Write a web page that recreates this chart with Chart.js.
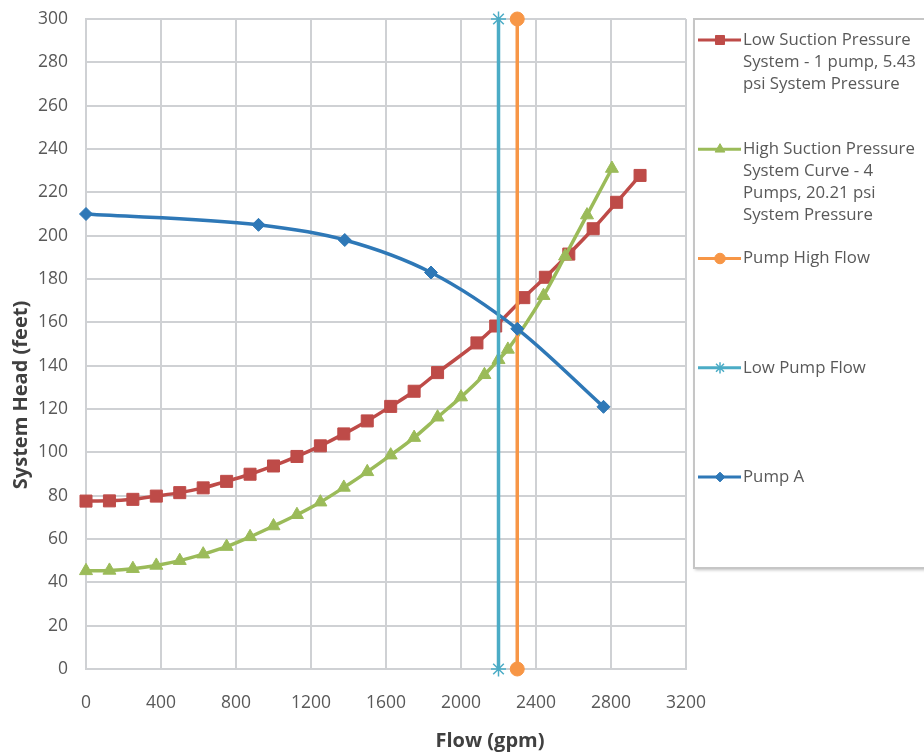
<!DOCTYPE html>
<html>
<head>
<meta charset="utf-8">
<script src="https://cdn.jsdelivr.net/npm/chart.js@4.4.0/dist/chart.umd.min.js"></script>
<style>
html,body{margin:0;padding:0;background:#ffffff;overflow:hidden;}
#wrap{position:relative;width:924px;height:753px;}
</style>
</head>
<body>
<div id="wrap"><canvas id="c" width="924" height="753"></canvas></div>
<script>
// ---------------- data ----------------
const xTickMin = 0, xTickMax = 3200, xTickStep = 400;
const yTickMin = 0, yTickMax = 300, yTickStep = 20;
const xAxisTitle = "Flow (gpm)";
const yAxisTitle = "System Head (feet)";

const lowSuctionFlow = [0,125,250,375,500,625,750,875,1000,1125,1250,1375,1500,1625,1750,1875,2085,2185,2335,2450,2575,2705,2830,2955];
const lowSuctionHead = [77.5,77.6,78.3,79.8,81.4,83.6,86.6,89.9,93.7,98.1,103,108.5,114.5,121.2,128.2,136.8,150.5,158.3,171.4,180.8,191.5,203.2,215.4,227.8];

const highSuctionFlow = [0,125,250,375,500,625,750,875,1000,1125,1250,1375,1500,1625,1750,1875,2000,2125,2200,2250,2440,2555,2672,2805];
const highSuctionHead = [45.3,45.5,46.3,47.8,50,53,56.5,61,66,71.2,77,83.8,91,98.7,106.8,116.2,125.5,135.8,142.7,147.5,172.3,190.5,209.5,231];

const pumpHighFlowX = [2300,2300];
const pumpHighFlowY = [0,300];

const lowPumpFlowX = [2200,2200];
const lowPumpFlowY = [0,300];

const pumpAFlow = [0,920,1380,1840,2300,2760];
const pumpAHead = [210,205,198,183,157,121];

const seriesLabels = [
  ["Low Suction Pressure","System - 1 pump, 5.43","psi System Pressure"],
  ["High Suction Pressure","System Curve - 4","Pumps, 20.21 psi","System Pressure"],
  ["Pump High Flow"],
  ["Low Pump Flow"],
  ["Pump A"]
];

// ---------------- build ----------------
function pts(xs, ys){ return xs.map((x,i)=>({x:x, y:ys[i]})); }

const COLORS = {red:'#BE4B48', green:'#9BBB59', orange:'#F79646', cyan:'#4BACC6', blue:'#2E78B7'};

const datasets = [
  {label: seriesLabels[0].join(' '), data: pts(lowSuctionFlow, lowSuctionHead),
   borderColor: COLORS.red, backgroundColor: COLORS.red, borderWidth: 3.5,
   pointStyle:'rect', pointRadius: 8.5, pointBorderWidth: 1, cubicInterpolationMode:'monotone', order: 4},
  {label: seriesLabels[1].join(' '), data: pts(highSuctionFlow, highSuctionHead),
   borderColor: COLORS.green, backgroundColor: COLORS.green, borderWidth: 3.5,
   pointStyle:'triangle', pointRadius: 7.5, pointBorderWidth: 1, cubicInterpolationMode:'monotone', order: 3},
  {label: seriesLabels[2].join(' '), data: pts(pumpHighFlowX, pumpHighFlowY),
   borderColor: COLORS.orange, backgroundColor: COLORS.orange, borderWidth: 3.5,
   pointStyle:'circle', pointRadius: 7, pointBorderWidth: 1, order: 2},
  {label: seriesLabels[3].join(' '), data: pts(lowPumpFlowX, lowPumpFlowY),
   borderColor: COLORS.cyan, backgroundColor: COLORS.cyan, borderWidth: 3.5,
   pointStyle:'star', pointRadius: 7.5, pointBorderWidth: 1.5, order: 0},
  {label: seriesLabels[4].join(' '), data: pts(pumpAFlow, pumpAHead),
   borderColor: COLORS.blue, backgroundColor: COLORS.blue, borderWidth: 3.5,
   pointStyle:'rectRot', pointRadius: 6.5, pointBorderWidth: 1, cubicInterpolationMode:'monotone', order: 1}
];

const LAYOUT = {plotLeft:86, plotTop:19, plotRight:686, plotBottom:669,
  legendLeft:694, legendTop:19, legendBottom:568, legendFirstY:40, legendStep:109.25, legendLineH:22};

function drawMarker(ctx, ds, x, y, r){
  ctx.fillStyle = ds.backgroundColor;
  ctx.strokeStyle = ds.borderColor;
  if (Chart.helpers && Chart.helpers.drawPoint){
    Chart.helpers.drawPoint(ctx, {pointStyle: ds.pointStyle, radius: r, rotation: 0, borderWidth: ds.pointBorderWidth}, x, y);
  }
}

const customPlugin = {
  id: 'customDecor',
  afterDraw(chart){
    const ctx = chart.ctx;
    const L = LAYOUT;
    ctx.save();
    // legend box
    ctx.save();
    ctx.shadowColor = 'rgba(0,0,0,0.25)';
    ctx.shadowBlur = 3; ctx.shadowOffsetX = 1; ctx.shadowOffsetY = 2;
    ctx.fillStyle = '#ffffff';
    ctx.fillRect(L.legendLeft, L.legendTop, 260, L.legendBottom - L.legendTop);
    ctx.restore();
    ctx.strokeStyle = '#c6c6c6'; ctx.lineWidth = 2;
    ctx.strokeRect(L.legendLeft, L.legendTop, 260, L.legendBottom - L.legendTop);

    chart.data.datasets.forEach((ds, i) => {
      const y0 = L.legendFirstY + i * L.legendStep;
      ctx.save();
      ctx.strokeStyle = ds.borderColor; ctx.lineWidth = 3;
      ctx.beginPath(); ctx.moveTo(698, y0); ctx.lineTo(741, y0); ctx.stroke();
      ctx.lineWidth = ds.pointBorderWidth;
      drawMarker(ctx, ds, 720, y0, ds.pointRadius * 0.75);
      ctx.restore();
      ctx.fillStyle = '#595959';
      ctx.font = '16.8px "Open Sans"';
      ctx.textAlign = 'left'; ctx.textBaseline = 'middle';
      seriesLabels[i].forEach((line, k) => ctx.fillText(line, 743, y0 + k * L.legendLineH));
    });

    // axis titles
    ctx.fillStyle = '#404040';
    ctx.font = 'bold 20px "Open Sans"';
    ctx.textAlign = 'center'; ctx.textBaseline = 'middle';
    ctx.fillText(xAxisTitle, 490, 741);
    ctx.save();
    ctx.translate(21, 395);
    ctx.rotate(-Math.PI / 2);
    ctx.fillText(yAxisTitle, 0, 0);
    ctx.restore();
    ctx.restore();
  }
};

const gridColor = '#cfd1d4';
const plainTick = (v) => String(v);

new Chart(document.getElementById('c'), {
  type: 'line',
  data: {datasets: datasets},
  plugins: [customPlugin],
  options: {
    responsive: false,
    animation: false,
    clip: false,
    layout: {padding: {left: 0, top: LAYOUT.plotTop, right: 924 - LAYOUT.plotRight, bottom: 0}},
    plugins: {legend: {display: false}, tooltip: {enabled: false}},
    scales: {
      x: {
        type: 'linear', min: xTickMin, max: xTickMax,
        ticks: {stepSize: xTickStep, padding: 24, color: '#595959', font: {family: 'Open Sans', size: 17.5}, maxRotation: 0, callback: plainTick},
        grid: {color: gridColor, lineWidth: 2, drawTicks: false},
        border: {color: gridColor, width: 2},
        afterFit(scale){ scale.height = 753 - LAYOUT.plotBottom; scale.paddingLeft = 0; scale.paddingRight = 0; }
      },
      y: {
        type: 'linear', min: yTickMin, max: yTickMax,
        ticks: {stepSize: yTickStep, padding: 18, color: '#595959', font: {family: 'Open Sans', size: 17.5}, callback: plainTick},
        grid: {color: gridColor, lineWidth: 2, drawTicks: false},
        border: {color: gridColor, width: 2},
        afterFit(scale){ scale.width = LAYOUT.plotLeft; scale.paddingTop = 0; scale.paddingBottom = 0; }
      }
    }
  }
});
</script>
</body>
</html>
